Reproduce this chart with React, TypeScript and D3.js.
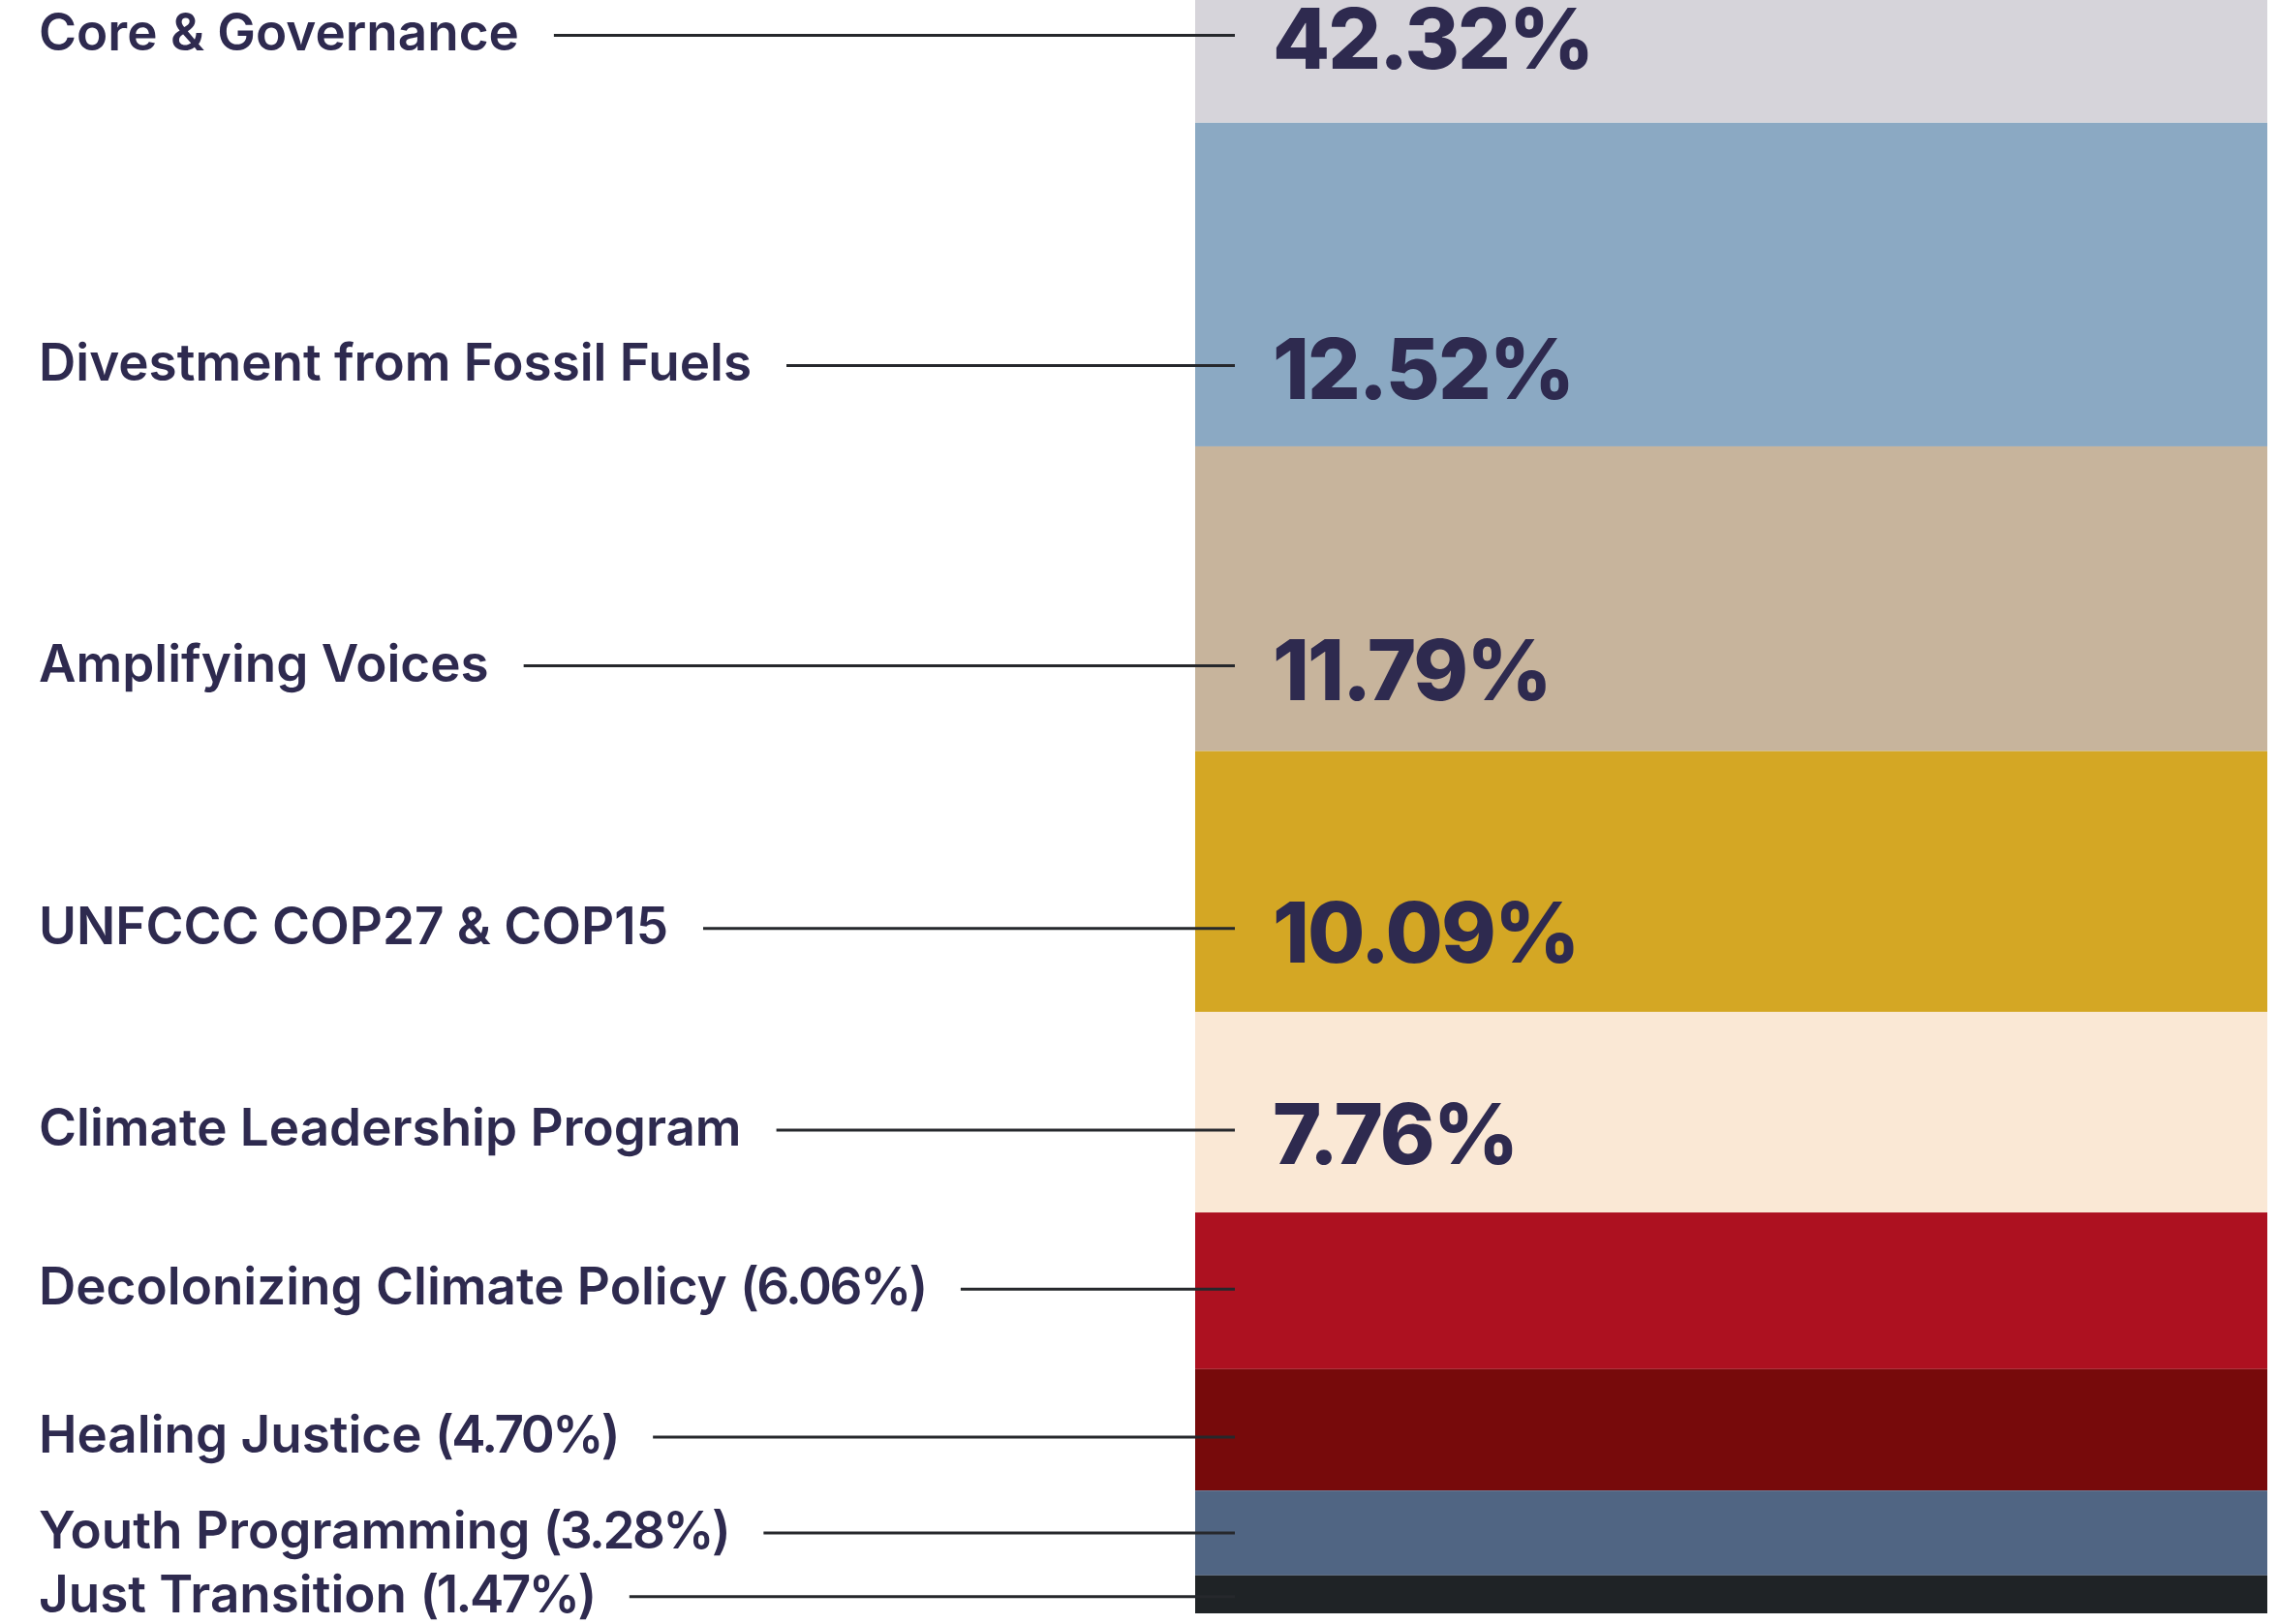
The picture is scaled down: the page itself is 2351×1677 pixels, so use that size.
import { useEffect, useRef } from "react";
import * as d3 from "d3";

const LAYOUT = {
  width: 2351,
  height: 1677,
  barLeft: 1234,
  barRight: 2341,
  barBottom: 1666,
  pxPerPct: 26.69,
  labelX: 40,
  lineGap: 36,
  lineEnd: 1275,
  valueX: 1314,
};

const FONT = "Inter, 'Open Sans', sans-serif";
const TEXT_COLOR = "#2e2a4f";

// top to bottom, as stacked in the bar
const CATEGORIES = [
  "Core & Governance",
  "Divestment from Fossil Fuels",
  "Amplifying Voices",
  "UNFCCC COP27 & COP15",
  "Climate Leadership Program",
  "Decolonizing Climate Policy",
  "Healing Justice",
  "Youth Programming",
  "Just Transition",
];

const SHARES = [42.32, 12.52, 11.79, 10.09, 7.76, 6.06, 4.7, 3.28, 1.47];

const COLORS = [
  "#d6d4da",
  "#8ba9c3",
  "#c7b49c",
  "#d4a724",
  "#fae8d5",
  "#ad1120",
  "#770a0b",
  "#506583",
  "#1f2326",
];

// big value printed inside the bar, otherwise value goes in the label
const VALUE_INSIDE = [true, true, true, true, true, false, false, false, false];

// where the leader line sits inside each segment (0 = top, 1 = bottom)
const LABEL_ANCHOR = [0.92, 0.75, 0.72, 0.68, 0.59, 0.49, 0.56, 0.5, 0.56];

function App() {
  const ref = useRef<SVGSVGElement | null>(null);

  useEffect(() => {
    const svg = d3.select(ref.current);
    svg.selectAll("*").remove();

    const total = d3.sum(SHARES);
    const y = d3
      .scaleLinear()
      .domain([0, total])
      .range([LAYOUT.barBottom, LAYOUT.barBottom - total * LAYOUT.pxPerPct]);

    // cumulative from the bottom
    const rows = CATEGORIES.map((name, i) => {
      const below = d3.sum(SHARES.slice(i + 1));
      return {
        name,
        value: SHARES[i],
        color: COLORS[i],
        inside: VALUE_INSIDE[i],
        y0: below,
        y1: below + SHARES[i],
        anchor: LABEL_ANCHOR[i],
      };
    });

    svg
      .append("g")
      .selectAll("rect")
      .data(rows)
      .join("rect")
      .attr("x", LAYOUT.barLeft)
      .attr("width", LAYOUT.barRight - LAYOUT.barLeft)
      .attr("y", (d) => y(d.y1))
      .attr("height", (d) => y(d.y0) - y(d.y1))
      .attr("fill", (d) => d.color);

    const fmt = d3.format(".2f");

    rows.forEach((d) => {
      const top = y(d.y1);
      const bottom = y(d.y0);
      const ly = top + (bottom - top) * d.anchor;

      const label = svg
        .append("text")
        .attr("x", LAYOUT.labelX)
        .attr("y", ly + 16)
        .attr("font-family", FONT)
        .attr("font-size", 53)
        .attr("font-weight", 600)
        .attr("fill", TEXT_COLOR);

      label.append("tspan").text(d.name);
      if (!d.inside) {
        label.append("tspan").text(" ");
        label
          .append("tspan")
          .attr("letter-spacing", -2.5)
          .text(`(${fmt(d.value)}%)`);
      }

      const len = (label.node() as SVGTextElement).getComputedTextLength();

      svg
        .append("line")
        .attr("x1", LAYOUT.labelX + len + LAYOUT.lineGap)
        .attr("x2", LAYOUT.lineEnd)
        .attr("y1", ly)
        .attr("y2", ly)
        .attr("stroke", "#26282c")
        .attr("stroke-width", 3);

      if (d.inside) {
        svg
          .append("text")
          .attr("x", LAYOUT.valueX)
          .attr("y", ly + 35)
          .attr("font-family", FONT)
          .attr("font-size", 86)
          .attr("font-weight", 800)
          .attr("letter-spacing", -2)
          .attr("fill", TEXT_COLOR)
          .text(`${fmt(d.value)}%`);
      }
    });
  }, []);

  return (
    <svg
      ref={ref}
      width={LAYOUT.width}
      height={LAYOUT.height}
      style={{ position: "absolute", left: 0, top: 0, background: "#fff" }}
    />
  );
}

export default App;
